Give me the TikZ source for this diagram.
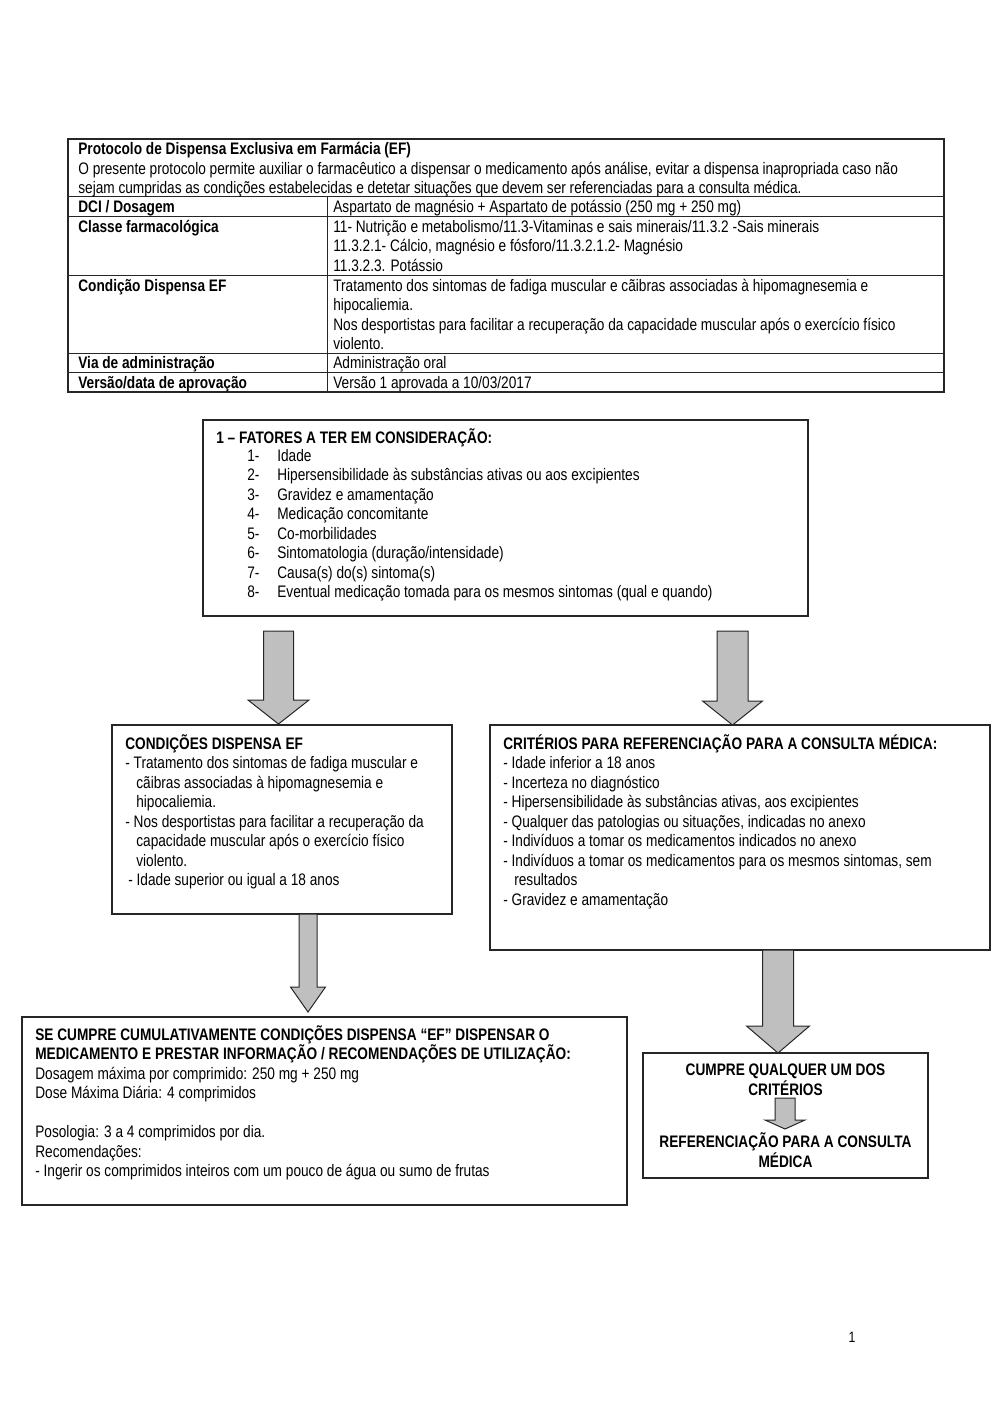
\documentclass[tikz,border=0pt]{standalone}
\usepackage{fontspec}
\setmainfont{Liberation Sans}[FakeStretch=0.82]
\usetikzlibrary{fit}
\newcommand\fl{\rule{0pt}{10pt}}
\newcommand\num[1]{\makebox[18pt][l]{#1}}
\begin{document}
\begin{tikzpicture}[x=0.6pt,y=-0.6pt,
  box/.style={draw=black!85, line width=0.9pt, inner sep=0pt, fill=none},
  tl/.style={anchor=north west, inner sep=0pt, align=left, yshift=10pt, font=\fontsize{10}{11.7}\selectfont},
  tc/.style={anchor=north, inner sep=0pt, align=center, yshift=10pt, font=\fontsize{10}{11.7}\selectfont\bfseries},
  tline/.style={draw=black!85, line width=0.6pt},
  barrow/.style={draw=black!85, line width=0.6pt, fill=black!25, line join=miter}]
\useasboundingbox (0,0) rectangle (1000,1414);
\newcommand\blockarrow[6]{%
  \draw[barrow] (#1-#5,#2) -- (#1+#5,#2) -- (#1+#5,#3) -- (#1+#6,#3) -- (#1,#4) -- (#1-#6,#3) -- (#1-#5,#3) -- cycle;}

% ---------- table ----------
\node[box, fit={(68,139) (944,392)}] (tab) {};
\draw[tline] (68,196) -- (944,196);
\draw[tline] (68,216) -- (944,216);
\draw[tline] (68,275) -- (944,275);
\draw[tline] (68,353) -- (944,353);
\draw[tline] (68,372) -- (944,372);
\draw[tline] (327,196) -- (327,392);
\node[tl] (th) at (78,154.5) {\fl\textbf{Protocolo de Dispensa Exclusiva em Farmácia (EF)}\\
O presente protocolo permite auxiliar o farmacêutico a dispensar o medicamento após análise, evitar a dispensa inapropriada caso não\\
sejam cumpridas as condições estabelecidas e detetar situações que devem ser referenciadas para a consulta médica.};
\node[tl] (l1) at (78,212) {\fl\textbf{DCI / Dosagem}};
\node[tl] (r1) at (333,212) {\fl Aspartato de magnésio + Aspartato de potássio (250 mg + 250 mg)};
\node[tl] (l2) at (78,232) {\fl\textbf{Classe farmacológica}};
\node[tl] (r2) at (333,232) {\fl 11- Nutrição e metabolismo/11.3-Vitaminas e sais minerais/11.3.2 -Sais minerais\\
11.3.2.1- Cálcio, magnésio e fósforo/11.3.2.1.2- Magnésio\\
11.3.2.3. Potássio};
\node[tl] (l3) at (78,291) {\fl\textbf{Condição Dispensa EF}};
\node[tl] (r3) at (333,291) {\fl Tratamento dos sintomas de fadiga muscular e cãibras associadas à hipomagnesemia e\\
hipocaliemia.\\
Nos desportistas para facilitar a recuperação da capacidade muscular após o exercício físico\\
violento.};
\node[tl] (l4) at (78,368) {\fl\textbf{Via de administração}};
\node[tl] (r4) at (333,368) {\fl Administração oral};
\node[tl] (l5) at (78,388) {\fl\textbf{Versão/data de aprovação}};
\node[tl] (r5) at (333,388) {\fl Versão 1 aprovada a 10/03/2017};

% ---------- box 1 ----------
\node[box, fit={(203,420) (808,616)}] (b1) {};
\node[tl] (b1t) at (216,443) {\fl\textbf{1 – FATORES A TER EM CONSIDERAÇÃO:}};
\node[tl] (b1l) at (247,461) {\fl\num{1-}Idade\\
\num{2-}Hipersensibilidade às substâncias ativas ou aos excipientes\\
\num{3-}Gravidez e amamentação\\
\num{4-}Medicação concomitante\\
\num{5-}Co-morbilidades\\
\num{6-}Sintomatologia (duração/intensidade)\\
\num{7-}Causa(s) do(s) sintoma(s)\\
\num{8-}Eventual medicação tomada para os mesmos sintomas (qual e quando)};

% ---------- condições ----------
\node[box, fit={(112,725) (452,914)}] (b2) {};
\node[tl] (b2t) at (125,749) {\fl\textbf{CONDIÇÕES DISPENSA EF}\\
- Tratamento dos sintomas de fadiga muscular e\\
\hspace*{6.6pt}cãibras associadas à hipomagnesemia e\\
\hspace*{6.6pt}hipocaliemia.\\
- Nos desportistas para facilitar a recuperação da\\
\hspace*{6.6pt}capacidade muscular após o exercício físico\\
\hspace*{6.6pt}violento.\\
\hspace*{1.8pt}- Idade superior ou igual a 18 anos};

% ---------- critérios ----------
\node[box, fit={(490,725) (990,950)}] (b3) {};
\node[tl] (b3t) at (503,749) {\fl\textbf{CRITÉRIOS PARA REFERENCIAÇÃO PARA A CONSULTA MÉDICA:}\\
- Idade inferior a 18 anos\\
- Incerteza no diagnóstico\\
- Hipersensibilidade às substâncias ativas, aos excipientes\\
- Qualquer das patologias ou situações, indicadas no anexo\\
- Indivíduos a tomar os medicamentos indicados no anexo\\
- Indivíduos a tomar os medicamentos para os mesmos sintomas, sem\\
\hspace*{6.6pt}resultados\\
- Gravidez e amamentação};

% ---------- se cumpre ----------
\node[box, fit={(22,1017) (627,1205)}] (b4) {};
\node[tl] (b4t) at (35,1040) {\fl\textbf{SE CUMPRE CUMULATIVAMENTE CONDIÇÕES DISPENSA “EF” DISPENSAR O}\\
\textbf{MEDICAMENTO E PRESTAR INFORMAÇÃO / RECOMENDAÇÕES DE UTILIZAÇÃO:}\\
Dosagem máxima por comprimido: 250 mg + 250 mg\\
Dose Máxima Diária: 4 comprimidos\\
\strut\\
Posologia: 3 a 4 comprimidos por dia.\\
Recomendações:\\
- Ingerir os comprimidos inteiros com um pouco de água ou sumo de frutas};

% ---------- cumpre ----------
\node[box, fit={(643,1053) (928,1178)}] (b5) {};
\node[tc] (b5a) at (785.5,1075.5) {\fl CUMPRE QUALQUER UM DOS\\CRITÉRIOS};
\node[tc] (b5b) at (785.5,1147.5) {\fl REFERENCIAÇÃO PARA A CONSULTA\\MÉDICA};

% ---------- block arrows ----------
\blockarrow{278.5}{631}{700}{724}{15}{30.5}
\blockarrow{732.5}{631}{701}{725}{15.5}{30}
\blockarrow{308}{914}{987}{1012}{9}{17.5}
\blockarrow{778}{950}{1026}{1053}{15.5}{31.5}
\blockarrow{785}{1098}{1120}{1129}{10}{20}

\node[anchor=base, inner sep=0pt, font=\fontsize{9}{10}\selectfont] (pg) at (852,1342) {1};
\end{tikzpicture}
\end{document}
